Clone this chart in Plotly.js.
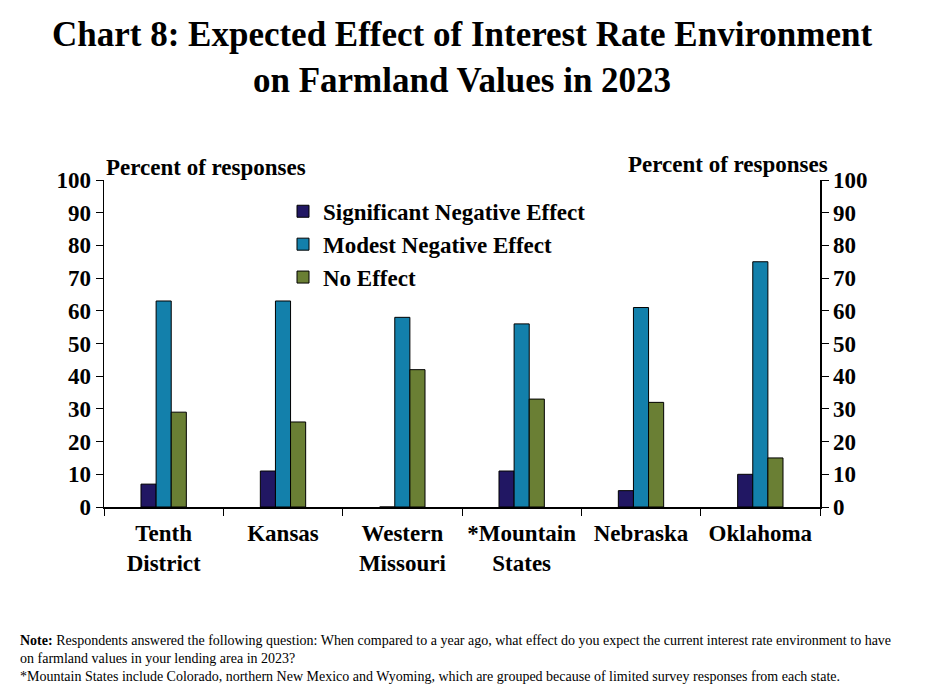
<!DOCTYPE html>
<html>
<head>
<meta charset="utf-8">
<script src="https://cdn.plot.ly/plotly-3.0.1.min.js"></script>
<style>
  body { margin: 0; background: white; }
  #chart { width: 925px; height: 693px; }
</style>
</head>
<body>
<div id="chart"></div>
<script>
var regions = ['Tenth<br>District', 'Kansas', 'Western<br>Missouri', '*Mountain<br>States', 'Nebraska', 'Oklahoma']
var significantNeg = [7, 11, 0, 11, 5, 10]
var modestNeg = [63, 63, 58, 56, 61, 75]
var noEffect = [29, 26, 42, 33, 32, 15]
var yTicks = [0, 10, 20, 30, 40, 50, 60, 70, 80, 90, 100]

var serif = 'Liberation Serif, Times New Roman, serif'
var boldFont = { family: serif, size: 23, color: '#000', weight: 'bold' }

function barTrace(name, vals, color) {
    return {
        x: regions,
        y: vals,
        name: name,
        type: 'bar',
        marker: { color: color, line: { color: '#000000', width: 1 } },
        hoverinfo: 'skip'
    }
}

var traces = [
    barTrace('Significant Negative Effect', significantNeg, '#211763'),
    barTrace('Modest Negative Effect', modestNeg, '#1380AB'),
    barTrace('No Effect', noEffect, '#6A7F34'),
    // empty trace so the right-hand axis gets drawn
    { x: regions, y: [null, null, null, null, null, null], type: 'scatter', yaxis: 'y2',
      showlegend: false, hoverinfo: 'skip' }
]

var yAxisBase = {
    range: [0, 100],
    tickvals: yTicks,
    ticks: 'outside',
    ticklen: 7,
    tickcolor: '#000',
    showline: true,
    linecolor: '#000',
    linewidth: 1.5,
    showgrid: false,
    zeroline: false,
    fixedrange: true,
    tickfont: boldFont
}

var layout = {
    width: 925,
    height: 693,
    margin: { l: 104, r: 105, t: 180, b: 186 },
    paper_bgcolor: 'white',
    plot_bgcolor: 'white',
    barmode: 'group',
    bargap: 0.62,
    bargroupgap: 0,
    showlegend: true,
    font: { family: serif, color: '#000' },
    legend: {
        x: 0.25,
        y: 0.97,
        xanchor: 'left',
        yanchor: 'top',
        bgcolor: 'rgba(0,0,0,0)',
        font: boldFont,
        itemwidth: 30
    },
    xaxis: {
        type: 'category',
        showline: true,
        linecolor: '#000',
        linewidth: 1.5,
        ticks: 'outside',
        tickson: 'boundaries',
        ticklen: 7,
        tickcolor: '#000',
        ticklabelstandoff: 5,
        showgrid: false,
        fixedrange: true,
        tickfont: boldFont
    },
    yaxis: Object.assign({}, yAxisBase, { side: 'left' }),
    yaxis2: Object.assign({}, yAxisBase, { side: 'right', overlaying: 'y' }),
    annotations: [
        { text: 'Chart 8: Expected Effect of Interest Rate Environment<br>on Farmland Values in 2023',
          xref: 'paper', yref: 'paper', x: 0.5, y: 1.3746, xanchor: 'center', yanchor: 'middle',
          showarrow: false, font: { family: serif, size: 35, color: '#000', weight: 'bold' } },
        { text: 'Percent of responses', xref: 'paper', yref: 'paper', x: 0.0, y: 1.037,
          xanchor: 'left', yanchor: 'middle', showarrow: false, font: boldFont },
        { text: 'Percent of responses', xref: 'paper', yref: 'paper', x: 1.014, y: 1.046,
          xanchor: 'right', yanchor: 'middle', showarrow: false, font: boldFont },
        { text: '<b>Note:</b> Respondents answered the following question: When compared to a year ago, what effect do you expect the current interest rate environment to have<br>on farmland values in your lending area in 2023?<br>*Mountain States include Colorado, northern New Mexico and Wyoming, which are grouped because of limited survey responses from each state.',
          xref: 'paper', yref: 'paper', x: -0.12, y: -0.38, xanchor: 'left', yanchor: 'top',
          align: 'left', showarrow: false,
          font: { family: serif, size: 14, color: '#000' } }
    ]
}

Plotly.newPlot('chart', traces, layout, { displayModeBar: false, staticPlot: true })
</script>
</body>
</html>
